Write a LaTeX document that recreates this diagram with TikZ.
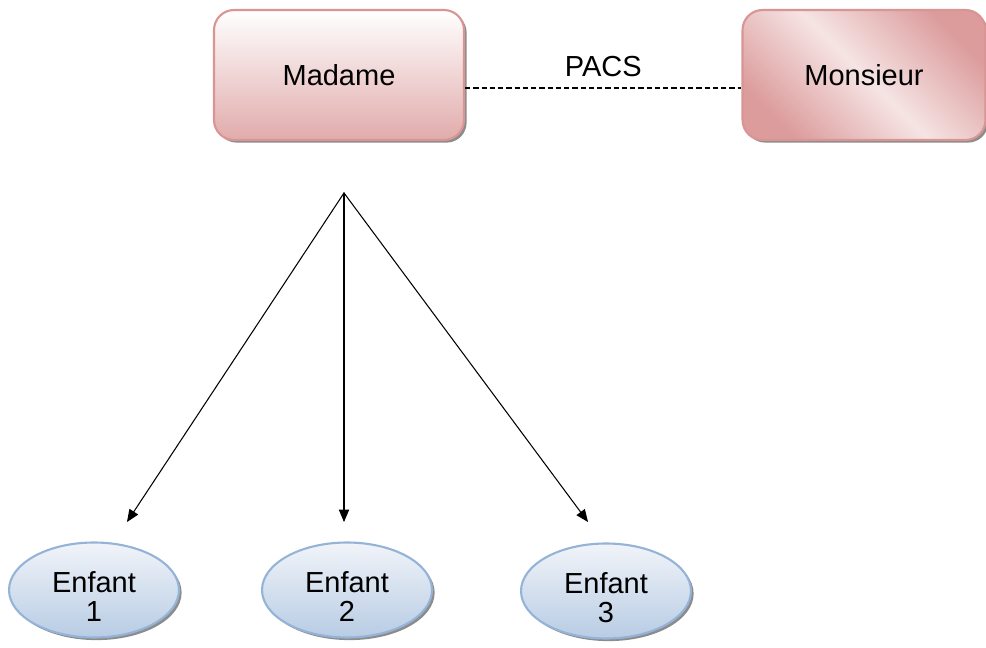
\documentclass[tikz,border=0pt]{standalone}
\usepackage{fontspec}
\setmainfont{Liberation Sans}
\usetikzlibrary{arrows,shapes.geometric,shadows}

\definecolor{roseborder}{HTML}{D99594}
\definecolor{rosedark}{HTML}{DC9C9C}
\definecolor{roselight}{HTML}{F6E4E4}
\definecolor{bleuborder}{HTML}{95B3D7}
\definecolor{bleudark}{HTML}{B8CCE4}
\definecolor{bleulight}{HTML}{F1F4F9}

\tikzset{
	parent/.style={draw=roseborder,line width=1.2pt,rounded corners=0.4cm,
		minimum width=5.0cm,minimum height=2.6cm,
		drop shadow={shadow xshift=1.5pt,shadow yshift=-1.5pt,fill=black!45,opacity=1}},
	enfant/.style={ellipse,draw=bleuborder,line width=1.2pt,
		minimum width=3.4cm,minimum height=1.9cm,
		top color=bleulight,bottom color=bleudark,
		drop shadow={shadow xshift=1.5pt,shadow yshift=-1.5pt,fill=black!45,opacity=1},
		label={[align=center,yshift=-0.13cm]center:Enfant\\#1}},
	lien/.style={->,line width=0.6pt}
}

\begin{document}
\begin{tikzpicture}[line cap=round,line join=round,>=triangle 45,x=0.02cm,y=0.02cm,
	font=\fontsize{16.5}{16.8}\selectfont]
		\useasboundingbox (0,0) rectangle (986,648);
		%%%%%%%%%%%%%%% P A R E N T S %%%%%%%%%%%%%%%%
		\node[parent,top color=white,bottom color=rosedark!85] (madame) at (339,573) {Madame};
		\node[parent,shading=axis,top color=rosedark,bottom color=rosedark,middle color=roselight,
			shading angle=-45,minimum width=4.86cm] (monsieur) at (864,573) {Monsieur};
		%PACS
		\draw [line width=0.6pt,line cap=butt,dash pattern=on 3pt off 1.7pt]
			([yshift=-0.26cm]madame.east) -- node[above=3pt,pos=0.5] (pacs) {PACS} ([yshift=-0.26cm]monsieur.west);
		%%%%%%%%%%%%%%% E N F A N T S %%%%%%%%%%%%%%%%
		\node[enfant=1] (enfant1) at (94,58) {};
		\node[enfant=2] (enfant2) at (347,58) {};
		\node[enfant=3] (enfant3) at (606,57) {};
		%%%%%%%%%%%%%%% F L E C H E S %%%%%%%%%%%%%%%%
		\coordinate (sommet) at (344,455);
		\coordinate (fin1) at (127,126);
		\coordinate (fin2) at (344,126);
		\coordinate (fin3) at (588,126);
		\draw [lien] (sommet) -- (fin1);
		\draw [lien] (sommet) -- (fin2);
		\draw [lien] (sommet) -- (fin3);
	\end{tikzpicture}
\end{document}
